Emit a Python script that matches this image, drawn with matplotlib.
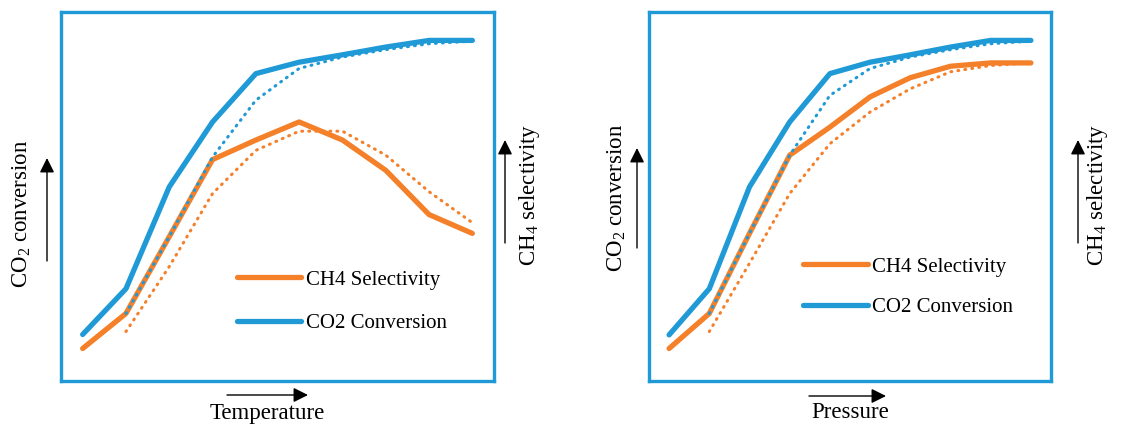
import numpy as np
import matplotlib
matplotlib.use("Agg")
import matplotlib.pyplot as plt

plt.rcParams['font.family'] = ['Liberation Serif', 'DejaVu Serif']
plt.rcParams['mathtext.fontset'] = 'custom'
plt.rcParams['mathtext.rm'] = 'Liberation Serif'

# ---- data (arbitrary, normalised units) ----
steps = list(range(10))
temp_co2 = [0.126, 0.250, 0.526, 0.702, 0.833, 0.864, 0.884, 0.905, 0.923, 0.923]
temp_ch4 = [0.088, 0.183, 0.391, 0.600, 0.653, 0.702, 0.653, 0.571, 0.451, 0.400]
temp_co2_dot = [np.nan, 0.183, 0.391, 0.607, 0.761, 0.847, 0.878, 0.898, 0.914, 0.921]
temp_ch4_dot = [np.nan, 0.134, 0.310, 0.508, 0.625, 0.677, 0.677, 0.612, 0.513, 0.429]

pres_co2 = [0.125, 0.250, 0.526, 0.702, 0.833, 0.864, 0.884, 0.905, 0.923, 0.923]
pres_ch4 = [0.088, 0.183, 0.400, 0.612, 0.688, 0.770, 0.822, 0.853, 0.862, 0.862]
pres_co2_dot = [np.nan, 0.183, 0.400, 0.612, 0.774, 0.847, 0.878, 0.898, 0.914, 0.921]
pres_ch4_dot = [np.nan, 0.134, 0.319, 0.508, 0.643, 0.729, 0.792, 0.838, 0.855, 0.862]

xlabels = ["Temperature", "Pressure"]
left_label = r"CO$_\mathregular{2}$ conversion"
right_label = r"CH$_\mathregular{4}$ selectivity"
legend_labels = ["CH4 Selectivity", "CO2 Conversion"]

BLUE = '#1f9ad6'
ORANGE = '#f5802a'

W, H = 1122, 428
fig = plt.figure(figsize=(W / 100, H / 100), dpi=100)

def px(x, y):
    return (x / W, 1 - y / H)

panels = [
    dict(box=(61, 12, 494, 381), co2=temp_co2, ch4=temp_ch4, co2d=temp_co2_dot, ch4d=temp_ch4_dot,
         xlabel=xlabels[0], leg=(0.406, 0.2155, 1.15),
         xl=(267, 413), xarr=(227, 308, 395),
         ylab=(22, 214), yarr=(47, 261, 158),
         rlab=(529, 195), rarr=(505, 243, 140)),
    dict(box=(649, 12, 1051, 381), co2=pres_co2, ch4=pres_ch4, co2d=pres_co2_dot, ch4d=pres_ch4_dot,
         xlabel=xlabels[1], leg=(0.384, 0.2545, 1.0),
         xl=(850, 413), xarr=(809, 886, 396),
         ylab=(617, 198), yarr=(637, 248, 148),
         rlab=(1097, 195), rarr=(1078, 243, 140)),
]

for p in panels:
    x0, y0, x1, y1 = p['box']
    ax = fig.add_axes([x0 / W, 1 - y1 / H, (x1 - x0) / W, (y1 - y0) / H])
    ax.set_xlim(-0.5, 9.5)
    ax.set_ylim(0, 1)
    ax.set_xticks([])
    ax.set_yticks([])
    for s in ax.spines.values():
        s.set_color(BLUE)
        s.set_linewidth(2.4)

    l_ch4, = ax.plot(steps, p['ch4'], color=ORANGE, lw=3.8, solid_capstyle='round',
                     solid_joinstyle='round', zorder=2)
    l_co2, = ax.plot(steps, p['co2'], color=BLUE, lw=3.8, solid_capstyle='round',
                     solid_joinstyle='round', zorder=2)
    ax.plot(steps, p['ch4d'], color=ORANGE, lw=2.2, linestyle=(0, (0.3, 2.0)),
            dash_capstyle='round', zorder=3)
    ax.plot(steps, p['co2d'], color=BLUE, lw=2.2, linestyle=(0, (0.3, 2.0)),
            dash_capstyle='round', zorder=4)

    lx, ly, lsp = p['leg']
    ax.legend([l_ch4, l_co2], legend_labels, loc='center left', bbox_to_anchor=(lx, ly),
              frameon=False, fontsize=15, handlelength=3.1, handletextpad=0.2,
              labelspacing=lsp, borderpad=0, borderaxespad=0)

    # x label and arrow
    fig.text(*px(*p['xl']), p['xlabel'], ha='center', va='center', fontsize=16.5)
    a0, a1, ay = p['xarr']
    fig.patches.append(matplotlib.patches.FancyArrowPatch(
        px(a0, ay), px(a1, ay), transform=fig.transFigure, arrowstyle='-|>',
        mutation_scale=22, lw=1.0, color='black', shrinkA=0, shrinkB=0))

    # left y label and arrow
    fig.text(*px(*p['ylab']), left_label, ha='center', va='center', rotation=90, fontsize=16.5)
    ax_, b0, b1 = p['yarr']
    fig.patches.append(matplotlib.patches.FancyArrowPatch(
        px(ax_, b0), px(ax_, b1), transform=fig.transFigure, arrowstyle='-|>',
        mutation_scale=22, lw=1.0, color='black', shrinkA=0, shrinkB=0))

    # right label and arrow
    fig.text(*px(*p['rlab']), right_label, ha='center', va='center', rotation=90, fontsize=16.5)
    rx, r0, r1 = p['rarr']
    fig.patches.append(matplotlib.patches.FancyArrowPatch(
        px(rx, r0), px(rx, r1), transform=fig.transFigure, arrowstyle='-|>',
        mutation_scale=22, lw=1.0, color='black', shrinkA=0, shrinkB=0))

fig.savefig("out.png", dpi=100)
